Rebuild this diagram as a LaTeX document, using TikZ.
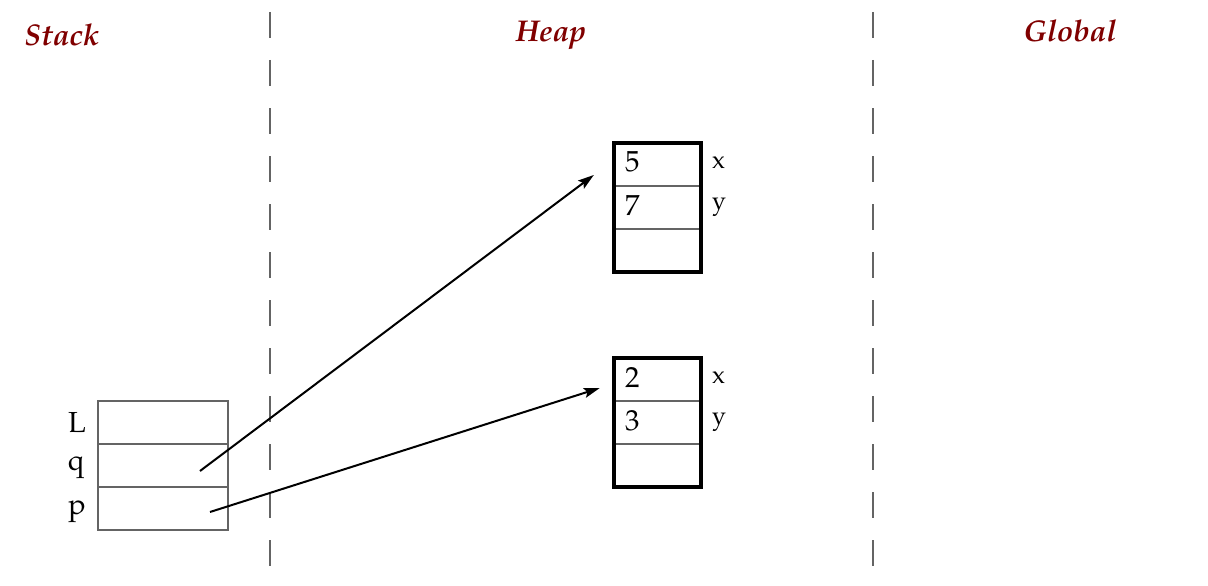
\documentclass[tikz,border=0pt]{standalone}
\usepackage[T1]{fontenc}
\usepackage{mathpazo}
\usetikzlibrary{arrows.meta,calc}
\definecolor{ttl}{RGB}{128,0,0}
\definecolor{cellgray}{RGB}{100,100,100}
\tikzset{
  title/.style={text=ttl,font=\fontsize{30}{33}\selectfont\bfseries\itshape},
  lbl/.style={font=\fontsize{29}{32}\selectfont,inner sep=0pt},
  small/.style={font=\fontsize{25}{28}\selectfont,inner sep=0pt},
  scell/.style={draw=cellgray,line width=2.4pt,minimum width=130pt,minimum height=43pt,inner sep=0pt},
  hcell/.style={draw=cellgray,line width=2.4pt,minimum width=87pt,minimum height=43pt,inner sep=0pt},
  outer/.style={draw=black,line width=4pt},
  divider/.style={draw=cellgray,line width=2pt,dash pattern=on 26pt off 22pt},
  ptr/.style={line width=2pt,-{Stealth[length=16pt,width=10pt,inset=3pt]}}
}
\begin{document}
\begin{tikzpicture}[x=1pt,y=-1pt]
\useasboundingbox (0,0) rectangle (1208,586);
% dividers
\coordinate (d1t) at (270,12); \coordinate (d1b) at (270,566);
\coordinate (d2t) at (873,12); \coordinate (d2b) at (873,566);
\draw[divider] (d1t) -- (d1b);
\draw[divider] (d2t) -- (d2b);
% titles
\node[title] (tstack) at (62,35) {Stack};
\node[title] (theap) at (551,35) {Heap};
\node[title] (tglobal) at (1070,31) {Global};
% stack
\node[scell] (s1) at (163,422.5) {};
\node[scell] (s2) at (163,465.5) {};
\node[scell] (s3) at (163,508.5) {};
\node[lbl] (lL) at (77,422) {L};
\node[lbl] (lq) at (76,468) {q};
\node[lbl] (lp) at (77,512) {p};
% heap object 1
\node[hcell] (h1a) at (657.5,164.5) {};
\node[hcell] (h1b) at (657.5,207.5) {};
\node[hcell] (h1c) at (657.5,250.5) {};
\draw[outer] ($(h1a.north west)+(1.5,1.5)$) rectangle ($(h1c.south east)+(-1.5,-1.5)$);
\node[lbl,anchor=west] (v5) at ($(h1a.west)+(12,-3)$) {5};
\node[lbl,anchor=west] (v7) at ($(h1b.west)+(12,-2)$) {7};
\node[small,anchor=west] (fx1) at (712,162) {x};
\node[small,anchor=west] (fy1) at (712,207) {y};
% heap object 2
\node[hcell] (h2a) at (657.5,379.5) {};
\node[hcell] (h2b) at (657.5,422.5) {};
\node[hcell] (h2c) at (657.5,465.5) {};
\draw[outer] ($(h2a.north west)+(1.5,1.5)$) rectangle ($(h2c.south east)+(-1.5,-1.5)$);
\node[lbl,anchor=west] (v2) at ($(h2a.west)+(12,-2)$) {2};
\node[lbl,anchor=west] (v3) at ($(h2b.west)+(12,-2)$) {3};
\node[small,anchor=west] (fx2) at (712,377) {x};
\node[small,anchor=west] (fy2) at (712,422) {y};
% pointers
\coordinate (q0) at ($(s2.center)+(37,5.5)$);
\coordinate (q1) at ($(h1a.west)+(-19,10.5)$);
\coordinate (p0) at ($(s3.center)+(47,3.5)$);
\coordinate (p1) at ($(h2a.west)+(-13,8.5)$);
\draw[ptr] (q0) -- (q1);
\draw[ptr] (p0) -- (p1);
\end{tikzpicture}
\end{document}
